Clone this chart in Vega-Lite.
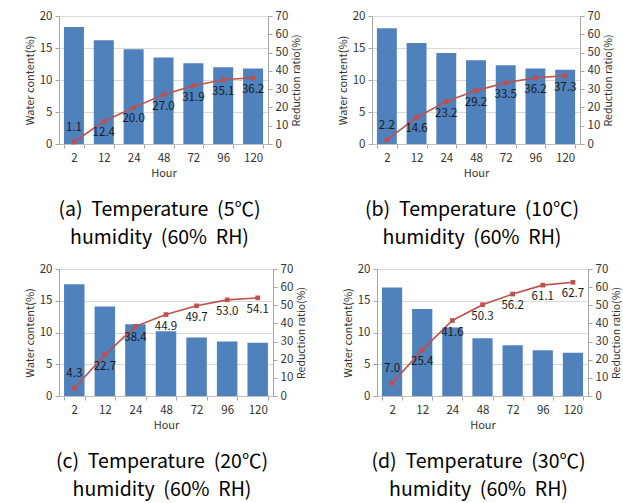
{
  "$schema": "https://vega.github.io/schema/vega-lite/v6.json",
  "padding": {"left": 24, "top": 10, "right": 2, "bottom": 3},
  "background": "white",
  "datasets": {
    "a": [
      {"hour": 2, "water": 18.3, "reduction": 1.1},
      {"hour": 12, "water": 16.2, "reduction": 12.4},
      {"hour": 24, "water": 14.8, "reduction": 20.0},
      {"hour": 48, "water": 13.5, "reduction": 27.0},
      {"hour": 72, "water": 12.6, "reduction": 31.9},
      {"hour": 96, "water": 12.0, "reduction": 35.1},
      {"hour": 120, "water": 11.8, "reduction": 36.2}
    ],
    "b": [
      {"hour": 2, "water": 18.1, "reduction": 2.2},
      {"hour": 12, "water": 15.8, "reduction": 14.6},
      {"hour": 24, "water": 14.2, "reduction": 23.2},
      {"hour": 48, "water": 13.1, "reduction": 29.2},
      {"hour": 72, "water": 12.3, "reduction": 33.5},
      {"hour": 96, "water": 11.8, "reduction": 36.2},
      {"hour": 120, "water": 11.6, "reduction": 37.3}
    ],
    "c": [
      {"hour": 2, "water": 17.6, "reduction": 4.3},
      {"hour": 12, "water": 14.1, "reduction": 22.7},
      {"hour": 24, "water": 11.3, "reduction": 38.4},
      {"hour": 48, "water": 10.2, "reduction": 44.9},
      {"hour": 72, "water": 9.2, "reduction": 49.7},
      {"hour": 96, "water": 8.6, "reduction": 53.0},
      {"hour": 120, "water": 8.4, "reduction": 54.1}
    ],
    "d": [
      {"hour": 2, "water": 17.1, "reduction": 7.0},
      {"hour": 12, "water": 13.7, "reduction": 25.4},
      {"hour": 24, "water": 10.8, "reduction": 41.6},
      {"hour": 48, "water": 9.1, "reduction": 50.3},
      {"hour": 72, "water": 8.0, "reduction": 56.2},
      {"hour": 96, "water": 7.2, "reduction": 61.1},
      {"hour": 120, "water": 6.8, "reduction": 62.7}
    ]
  },
  "spacing": 16,
  "vconcat": [
    {
      "spacing": 34,
      "hconcat": [
        {
          "width": 209, "height": 128,
          "data": {"name": "a"},
          "title": {"text": ["(a) \u00a0Temperature \u00a0(5℃)", "humidity \u00a0(60% \u00a0RH)"]},
          "encoding": {"x": {"field": "hour", "type": "ordinal", "title": "Hour", "scale": {"paddingInner": 0.33, "paddingOuter": 0.165}}},
          "layer": [
            {"mark": {"type": "bar", "color": "#4F81BD"},
             "encoding": {"y": {"field": "water", "type": "quantitative", "title": "Water content(%)", "scale": {"domain": [0, 20]}, "axis": {"values": [0, 5, 10, 15, 20], "grid": true}}}},
            {"encoding": {"y": {"field": "reduction", "type": "quantitative", "title": "Reduction ratio(%)", "scale": {"domain": [0, 70]}, "axis": {"orient": "right", "values": [0, 10, 20, 30, 40, 50, 60, 70], "grid": false, "titleAngle": 270, "titleFontSize": 10.5, "titleBaseline": "top"}}},
             "layer": [
               {"mark": {"type": "line", "color": "#C0504D", "strokeWidth": 1.6}},
               {"mark": {"type": "point", "shape": "square", "filled": true, "opacity": 1, "size": 22, "color": "#C0504D"}},
               {"transform": [{"filter": "datum.hour == 2"}], "mark": {"type": "text", "dy": -14}, "encoding": {"text": {"field": "reduction", "type": "quantitative", "format": ".1f"}}},
               {"transform": [{"filter": "datum.hour != 2"}], "mark": {"type": "text", "dy": 12}, "encoding": {"text": {"field": "reduction", "type": "quantitative", "format": ".1f"}}}
             ]}
          ],
          "resolve": {"scale": {"y": "independent"}}
        },
        {
          "width": 208, "height": 128,
          "data": {"name": "b"},
          "title": {"text": ["(b) \u00a0Temperature \u00a0(10℃)", "humidity \u00a0(60% \u00a0RH)"]},
          "encoding": {"x": {"field": "hour", "type": "ordinal", "title": "Hour", "scale": {"paddingInner": 0.33, "paddingOuter": 0.165}}},
          "layer": [
            {"mark": {"type": "bar", "color": "#4F81BD"},
             "encoding": {"y": {"field": "water", "type": "quantitative", "title": "Water content(%)", "scale": {"domain": [0, 20]}, "axis": {"values": [0, 5, 10, 15, 20], "grid": true}}}},
            {"encoding": {"y": {"field": "reduction", "type": "quantitative", "title": "Reduction ratio(%)", "scale": {"domain": [0, 70]}, "axis": {"orient": "right", "values": [0, 10, 20, 30, 40, 50, 60, 70], "grid": false, "titleAngle": 270, "titleFontSize": 10.5, "titleBaseline": "top"}}},
             "layer": [
               {"mark": {"type": "line", "color": "#C0504D", "strokeWidth": 1.6}},
               {"mark": {"type": "point", "shape": "square", "filled": true, "opacity": 1, "size": 22, "color": "#C0504D"}},
               {"transform": [{"filter": "datum.hour == 2"}], "mark": {"type": "text", "dy": -14}, "encoding": {"text": {"field": "reduction", "type": "quantitative", "format": ".1f"}}},
               {"transform": [{"filter": "datum.hour != 2"}], "mark": {"type": "text", "dy": 12}, "encoding": {"text": {"field": "reduction", "type": "quantitative", "format": ".1f"}}}
             ]}
          ],
          "resolve": {"scale": {"y": "independent"}}
        }
      ]
    },
    {
      "spacing": 34,
      "hconcat": [
        {
          "width": 214, "height": 127,
          "data": {"name": "c"},
          "title": {"text": ["(c) \u00a0Temperature \u00a0(20℃)", "humidity \u00a0(60% \u00a0RH)"]},
          "encoding": {"x": {"field": "hour", "type": "ordinal", "title": "Hour", "scale": {"paddingInner": 0.33, "paddingOuter": 0.165}}},
          "layer": [
            {"mark": {"type": "bar", "color": "#4F81BD"},
             "encoding": {"y": {"field": "water", "type": "quantitative", "title": "Water content(%)", "scale": {"domain": [0, 20]}, "axis": {"values": [0, 5, 10, 15, 20], "grid": true}}}},
            {"encoding": {"y": {"field": "reduction", "type": "quantitative", "title": "Reduction ratio(%)", "scale": {"domain": [0, 70]}, "axis": {"orient": "right", "values": [0, 10, 20, 30, 40, 50, 60, 70], "grid": false, "titleAngle": 270, "titleFontSize": 10.5, "titleBaseline": "top"}}},
             "layer": [
               {"mark": {"type": "line", "color": "#C0504D", "strokeWidth": 1.6}},
               {"mark": {"type": "point", "shape": "square", "filled": true, "opacity": 1, "size": 22, "color": "#C0504D"}},
               {"transform": [{"filter": "datum.hour == 2"}], "mark": {"type": "text", "dy": -14}, "encoding": {"text": {"field": "reduction", "type": "quantitative", "format": ".1f"}}},
               {"transform": [{"filter": "datum.hour != 2"}], "mark": {"type": "text", "dy": 12}, "encoding": {"text": {"field": "reduction", "type": "quantitative", "format": ".1f"}}}
             ]}
          ],
          "resolve": {"scale": {"y": "independent"}}
        },
        {
          "width": 211, "height": 127,
          "data": {"name": "d"},
          "title": {"text": ["(d) \u00a0Temperature \u00a0(30℃)", "humidity \u00a0(60% \u00a0RH)"]},
          "encoding": {"x": {"field": "hour", "type": "ordinal", "title": "Hour", "scale": {"paddingInner": 0.33, "paddingOuter": 0.165}}},
          "layer": [
            {"mark": {"type": "bar", "color": "#4F81BD"},
             "encoding": {"y": {"field": "water", "type": "quantitative", "title": "Water content(%)", "scale": {"domain": [0, 20]}, "axis": {"values": [0, 5, 10, 15, 20], "grid": true}}}},
            {"encoding": {"y": {"field": "reduction", "type": "quantitative", "title": "Reduction ratio(%)", "scale": {"domain": [0, 70]}, "axis": {"orient": "right", "values": [0, 10, 20, 30, 40, 50, 60, 70], "grid": false, "titleAngle": 270, "titleFontSize": 10.5, "titleBaseline": "top"}}},
             "layer": [
               {"mark": {"type": "line", "color": "#C0504D", "strokeWidth": 1.6}},
               {"mark": {"type": "point", "shape": "square", "filled": true, "opacity": 1, "size": 22, "color": "#C0504D"}},
               {"transform": [{"filter": "datum.hour == 2"}], "mark": {"type": "text", "dy": -14}, "encoding": {"text": {"field": "reduction", "type": "quantitative", "format": ".1f"}}},
               {"transform": [{"filter": "datum.hour != 2"}], "mark": {"type": "text", "dy": 12}, "encoding": {"text": {"field": "reduction", "type": "quantitative", "format": ".1f"}}}
             ]}
          ],
          "resolve": {"scale": {"y": "independent"}}
        }
      ]
    }
  ],
  "config": {
    "font": "Noto Sans CJK KR",
    "view": {"stroke": null},
    "text": {"font": "Noto Sans CJK KR", "fontSize": 11.5, "color": "#1a1a1a"},
    "title": {"orient": "bottom", "anchor": "middle", "fontSize": 19.5, "fontWeight": "normal", "color": "#000000", "lineHeight": 28, "offset": 22, "dx": -4, "font": "Noto Sans CJK KR"},
    "axis": {
      "domainColor": "#A6A6A6", "tickColor": "#A6A6A6", "tickSize": 4,
      "gridColor": "#D9D9D9", "labelColor": "#333333", "titleColor": "#333333",
      "labelFontSize": 11.5, "titleFontSize": 11, "titleFontWeight": "normal",
      "labelFont": "Noto Sans CJK KR", "titleFont": "Noto Sans CJK KR",
      "labelPadding": 3, "titlePadding": 4
    },
    "axisX": {"labelAngle": 0, "tickBand": "extent", "grid": false, "labelPadding": 4, "titlePadding": 4, "domainColor": "#BFBFBF"}
  }
}
